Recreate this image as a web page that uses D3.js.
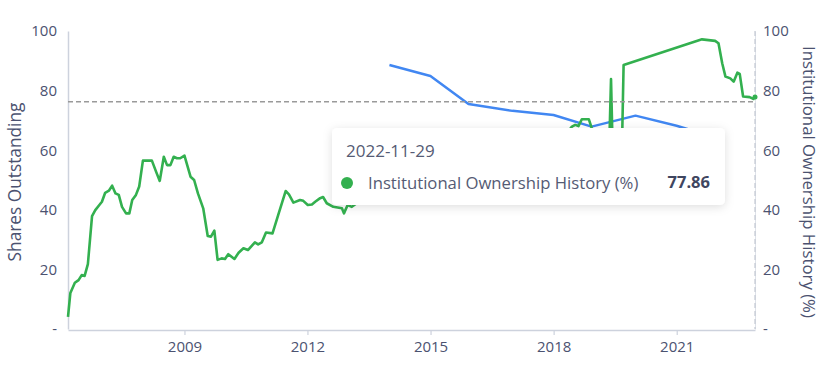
<!DOCTYPE html>
<html>
<head>
<meta charset="utf-8">
<script src="https://cdn.jsdelivr.net/npm/d3@7"></script>
<style>
  html, body { margin: 0; padding: 0; background: #fff; }
  svg { display: block; font-family: "Open Sans", "Noto Sans", sans-serif; }
</style>
</head>
<body>
<svg id="chart" width="822" height="366"></svg>
<script>
// ---- Data ----
const ownershipDates = [
  "2006-03-01","2006-03-22","2006-05-01","2006-06-03","2006-07-01","2006-07-27","2006-08-25","2006-10-01","2006-10-30","2006-12-05",
  "2006-12-28","2007-01-26","2007-02-28","2007-03-29","2007-04-28","2007-05-27","2007-06-25","2007-07-31","2007-08-29","2007-09-24",
  "2007-10-27","2007-11-25","2007-12-28","2008-03-17","2008-04-23","2008-05-26","2008-07-01","2008-07-30","2008-08-29","2008-09-27",
  "2008-10-26","2008-11-24","2009-01-01","2009-02-24","2009-03-28","2009-05-01","2009-06-17","2009-07-27","2009-08-25","2009-09-24",
  "2009-10-23","2009-11-28","2009-12-28","2010-01-26","2010-03-22","2010-04-28","2010-06-10","2010-07-20","2010-09-20","2010-10-19",
  "2010-11-21","2010-12-28","2011-02-24","2011-04-16","2011-06-21","2011-07-20","2011-08-29","2011-10-27","2011-11-25","2012-01-04",
  "2012-02-10","2012-03-10","2012-04-23","2012-05-19","2012-06-21","2012-08-18","2012-11-03","2012-11-21","2012-12-24","2013-01-30",
  "2013-04-30","2013-09-30","2014-03-31","2014-09-30","2015-03-31","2015-09-30","2016-03-31","2016-09-30","2017-03-31","2017-09-30",
  "2018-03-31","2018-06-13","2018-07-12","2018-08-10","2018-09-09","2018-11-10","2018-12-02","2019-01-20","2019-03-31","2019-05-10",
  "2019-05-27","2019-06-12","2019-07-31","2019-08-30","2019-09-16","2021-08-14","2021-12-09","2022-01-08","2022-02-10","2022-03-11",
  "2022-04-23","2022-05-23","2022-06-25","2022-07-16","2022-08-15","2022-10-12","2022-11-17","2022-11-29"
];
const ownershipValues = [
  4.1,12.1,15.5,16.4,18.1,17.8,21.8,37.9,39.9,41.6,
  42.7,45.7,46.4,48.1,45.5,45.0,41.0,38.8,38.8,43.3,
  45.0,47.8,56.5,56.5,52.8,49.7,57.8,55.0,55.0,57.8,
  57.3,57.3,58.2,51.1,50.0,45.5,40.5,31.2,31.0,33.0,
  23.2,23.7,23.5,25.1,23.5,25.6,27.1,26.5,29.1,28.4,
  29.1,32.4,32.1,38.3,46.3,45.2,42.4,43.3,43.0,41.6,
  41.8,42.7,43.9,44.3,42.2,41.0,40.5,38.8,41.6,41.0,
  43.5,46.8,50.2,53.0,55.4,52.6,56.1,59.8,58.2,61.7,
  64.3,67.9,68.5,68.1,70.4,70.4,67.9,61.5,58.4,59.6,
  83.9,58.0,54.7,56.2,88.6,97.2,96.7,95.9,89.2,84.7,
  84.1,83.0,86.0,85.6,78.0,77.8,77.2,77.86
];
const sharesDates = ["2013-12-31","2014-12-31","2015-12-05","2016-12-31","2017-12-31","2018-12-05","2019-12-31","2020-12-31","2021-12-31"];
const sharesValues = [88.6,84.9,75.5,73.2,71.8,67.9,71.6,68.2,64.0];

const xTickYears = [2009, 2012, 2015, 2018, 2021];
const yTickValues = [0, 20, 40, 60, 80, 100];
const domainStart = "2006-03-01";
const domainEnd = "2022-11-29";

const leftTitle = "Shares Outstanding";
const rightTitle = "Institutional Ownership History (%)";
const tooltipDate = "2022-11-29";
const tooltipLabel = "Institutional Ownership History (%)";
const tooltipValue = "77.86";
const crosshairValue = 76.3;

// ---- Drawing ----
const parse = d3.timeParse("%Y-%m-%d");
const svg = d3.select("#chart");
const M = { left: 68, right: 755, top: 31, bottom: 329 };

const x = d3.scaleTime().domain([parse(domainStart), parse(domainEnd)]).range([M.left, M.right]);
const yL = d3.scaleLinear().domain([0, 100]).range([M.bottom, M.top]);
const yR = d3.scaleLinear().domain([0, 100]).range([M.bottom, M.top]);

const textColor = "#4b5270";
const axisColor = "#cdd2dd";
const fmt = v => v === 0 ? "-" : String(v);

// defs
const defs = svg.append("defs");
const f = defs.append("filter").attr("id", "shadow").attr("x", "-10%").attr("y", "-30%").attr("width", "120%").attr("height", "170%");
f.append("feDropShadow").attr("dx", 0).attr("dy", 2).attr("stdDeviation", 5).attr("flood-color", "#000").attr("flood-opacity", 0.13);

// left axis
const gL = svg.append("g").attr("transform", `translate(${M.left},0)`)
  .call(d3.axisLeft(yL).tickValues(yTickValues).tickFormat(fmt).tickSize(0).tickPadding(11));
gL.select(".domain").attr("stroke", axisColor).attr("stroke-width", 1.5);
gL.selectAll("text").attr("fill", textColor).style("font-size", "15px").style("font-family", "'Open Sans', sans-serif");

// right axis
const gR = svg.append("g").attr("transform", `translate(${M.right},0)`)
  .call(d3.axisRight(yR).tickValues(yTickValues).tickFormat(fmt).tickSize(0).tickPadding(8));
gR.select(".domain").attr("stroke", "#dde1e8").attr("stroke-width", 1);
gR.selectAll("text").attr("fill", textColor).style("font-size", "15px").style("font-family", "'Open Sans', sans-serif");

// bottom axis
const gB = svg.append("g").attr("transform", `translate(0,${M.bottom + 1})`)
  .call(d3.axisBottom(x).tickValues(xTickYears.map(yr => new Date(yr, 0, 1))).tickFormat(d3.timeFormat("%Y")).tickSize(5).tickPadding(6).tickSizeOuter(0));
gB.select(".domain").attr("stroke", axisColor).attr("stroke-width", 1.5);
gB.selectAll(".tick line").attr("stroke", axisColor).attr("stroke-width", 1.2);
gB.selectAll("text").attr("fill", textColor).style("font-size", "15px").style("font-family", "'Open Sans', sans-serif");

// axis titles
svg.append("text")
  .attr("transform", `translate(21,182) rotate(-90)`)
  .attr("text-anchor", "middle").attr("fill", textColor)
  .style("font-size", "17.3px").text(leftTitle);
svg.append("text")
  .attr("transform", `translate(803,182) rotate(90)`)
  .attr("text-anchor", "middle").attr("fill", textColor)
  .style("font-size", "16.8px").text(rightTitle);

// lines
const ownership = ownershipDates.map((d, i) => ({ d: parse(d), v: ownershipValues[i] }));
const shares = sharesDates.map((d, i) => ({ d: parse(d), v: sharesValues[i] }));

svg.append("path").datum(shares)
  .attr("fill", "none").attr("stroke", "#4187f2").attr("stroke-width", 2.5).attr("stroke-linejoin", "round")
  .attr("d", d3.line().x(p => x(p.d)).y(p => yL(p.v)));
svg.append("path").datum(ownership)
  .attr("fill", "none").attr("stroke", "#33b04f").attr("stroke-width", 2.6).attr("stroke-linejoin", "round")
  .attr("d", d3.line().x(p => x(p.d)).y(p => yR(p.v)));

// crosshair
const last = ownership[ownership.length - 1];
svg.append("line")
  .attr("x1", M.left).attr("x2", M.right).attr("y1", yL(crosshairValue)).attr("y2", yL(crosshairValue))
  .attr("stroke", "#9a9a9a").attr("stroke-width", 1.5).attr("stroke-dasharray", "5,3");
svg.append("line")
  .attr("x1", x(last.d)).attr("x2", x(last.d)).attr("y1", M.top).attr("y2", M.bottom)
  .attr("stroke", "#c3c8d3").attr("stroke-width", 1.2).attr("stroke-dasharray", "5,3");
svg.append("circle").attr("cx", x(last.d)).attr("cy", yR(last.v)).attr("r", 2.5).attr("fill", "#33b04f");

// tooltip
const tt = svg.append("g").attr("transform", "translate(332,128)");
tt.append("rect").attr("width", 393).attr("height", 77).attr("rx", 5).attr("fill", "#fff").attr("filter", "url(#shadow)");
tt.append("text").attr("x", 14).attr("y", 29).attr("fill", "#555b74").style("font-size", "17px").text(tooltipDate);
tt.append("circle").attr("cx", 15).attr("cy", 55).attr("r", 6).attr("fill", "#33b04f");
tt.append("text").attr("x", 36).attr("y", 61).attr("fill", "#555b74").style("font-size", "16.7px").text(tooltipLabel);
tt.append("text").attr("x", 378).attr("y", 60).attr("text-anchor", "end").attr("fill", "#3f4660")
  .style("font-size", "16.5px").style("font-weight", "bold").text(tooltipValue);
</script>
</body>
</html>
